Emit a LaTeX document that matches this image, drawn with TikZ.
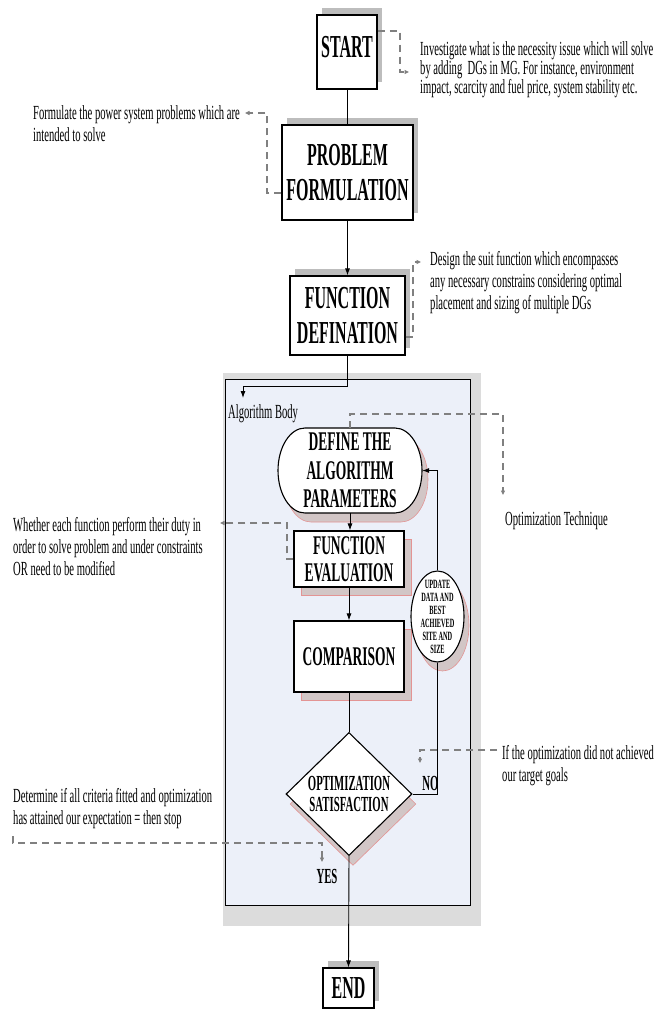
\documentclass[tikz,border=0pt]{standalone}
\usepackage{fontspec}
\setmainfont{Liberation Serif}[FakeStretch=0.53]
\newfontfamily\boxfont{Liberation Serif}[FakeStretch=0.5]
\usetikzlibrary{arrows.meta,shapes.geometric,shadows,calc}
\definecolor{boxshadow}{HTML}{BDBDBD}
\definecolor{panelgray}{HTML}{DCDCDC}
\definecolor{panelblue}{HTML}{ECF0F9}
\definecolor{pinkshadow}{HTML}{D2C6C6}
\definecolor{pinkedge}{HTML}{E39494}
\definecolor{annotgray}{HTML}{808080}
\begin{document}
\begin{tikzpicture}[x=1pt,y=-1pt,
  bigbox/.style={draw=black, line width=1.1pt, fill=white, align=center, inner sep=0pt,
    font=\boxfont\fontsize{32}{35}\selectfont\bfseries,
    copy shadow={shadow xshift=5pt, shadow yshift=7pt, fill=boxshadow, draw=none}},
  midbox/.style={draw=black, line width=1.1pt, fill=white, align=center, inner sep=0pt,
    font=\boxfont\fontsize{27}{27}\selectfont\bfseries,
    copy shadow={shadow xshift=7pt, shadow yshift=-8pt, fill=pinkshadow, draw=pinkedge, line width=0.6pt}},
  note/.style={font=\fontsize{20}{22}\selectfont, align=left, inner sep=0pt, anchor=north west},
  lbl/.style={font=\boxfont\fontsize{21.5}{21}\selectfont\bfseries, inner sep=0pt},
  conn/.style={line width=0.9pt, draw=black},
  arr/.style={conn, -{Latex[length=7pt,width=5pt]}},
  annot/.style={draw=annotgray, line width=1.1pt, dash pattern=on 7pt off 5pt,
    -{Triangle[length=4.5pt,width=4pt]}}
]
\useasboundingbox (0,0) rectangle (662,1009);

% algorithm panel
\fill[panelgray] (223,373) rectangle (481,926);
\draw[fill=panelblue, line width=1pt] (225,379) rectangle (470,905);

% main boxes
\node[bigbox, minimum width=60pt, minimum height=74pt, text depth=10pt] (start) at (347,52) {START};
\node[bigbox, minimum width=131pt, minimum height=95pt] (prob) at (347.5,172.5) {PROBLEM\\FORMULATION};
\node[bigbox, minimum width=115pt, minimum height=79pt] (fdef) at (347.5,315.5) {FUNCTION\\DEFINATION};

% stadium shape
\draw[fill=white, line width=1.1pt,
  copy shadow={shadow xshift=6pt, shadow yshift=-9pt, fill=pinkshadow, draw=pinkedge, line width=0.6pt}]
  (305,428) -- (395,428) arc[start angle=90, end angle=-90, x radius=27pt, y radius=42.5pt]
  -- (305,513) arc[start angle=270, end angle=90, x radius=27pt, y radius=42.5pt] -- cycle;
\node[align=center, inner sep=0pt, font=\boxfont\fontsize{27}{28.5}\selectfont\bfseries,
  minimum width=144pt, minimum height=85pt] (def) at (350,470.5) {DEFINE THE\\ALGORITHM\\PARAMETERS};

\node[midbox, minimum width=110pt, minimum height=56pt] (feval) at (349,559) {FUNCTION\\EVALUATION};
\node[midbox, minimum width=110pt, minimum height=71pt] (comp) at (349,656.5) {COMPARISON};
\node[diamond, draw=black, line width=1.1pt, fill=white, align=center, inner sep=0pt,
  font=\boxfont\fontsize{21.5}{21}\selectfont\bfseries, minimum width=126pt, minimum height=123pt,
  copy shadow={shadow xshift=4pt, shadow yshift=-10pt, fill=pinkshadow, draw=pinkedge, line width=0.6pt}]
  (opt) at (349,794) {OPTIMIZATION\\SATISFACTION};
\node[ellipse, draw=black, line width=1.1pt, fill=white, inner sep=0pt,
  minimum width=53pt, minimum height=91pt,
  copy shadow={shadow xshift=5pt, shadow yshift=-9pt, fill=pinkshadow, draw=pinkedge, line width=0.6pt}]
  (upd) at (437.5,616.5) {};
\node[align=center, inner sep=0pt, font=\boxfont\fontsize{12.6}{13}\selectfont\bfseries] (updtxt) at (upd.center)
  {UPDATE\\DATA AND\\BEST\\ACHIEVED\\SITE AND\\SIZE};
\node[bigbox, minimum width=51pt, minimum height=40pt] (end) at (348.5,988) {END};

% labels
\node[note] (alg) at (228,404) {Algorithm Body};
\node[lbl] (no) at (430.5,783) {NO};
\node[lbl] (yes) at (327,876) {YES};

% main connectors
\coordinate (abtip) at (243,398);
\draw[conn] (start.south) -- (start.south |- prob.north);
\draw[arr] (prob.south) -- (fdef.north);
\draw[arr] (fdef.south) -- ++(0,31) -| (abtip);
\draw[arr] (def.south) -- (def.south |- feval.north);
\draw[arr] (feval.south) -- (comp.north);
\draw[conn] (comp.south) -- (opt.north);
\draw[conn] (opt.east) -| (upd.south);
\draw[arr] (upd.north) |- (def.east);
\draw[arr] (opt.south) -- (end.north);

% notes
\node[note, font=\fontsize{20}{18}\selectfont] (inv) at (420,41) {Investigate what is the necessity issue which will solve\\by adding~ DGs in MG. For instance, environment\\impact, scarcity and fuel price, system stability etc.};
\node[note] (form) at (33,105) {Formulate the power system problems which are\\intended to solve};
\node[note] (des) at (430,251) {Design the suit function which encompasses\\any necessary constrains considering optimal\\placement and sizing of multiple DGs};
\node[note] (optt) at (505,511) {Optimization Technique};
\node[note] (whe) at (13,517) {Whether each function perform their duty in\\order to solve problem and under constraints\\OR need to be modified};
\node[note] (ift) at (502,745) {If the optimization did not achieved\\our target goals};
\node[note] (det) at (13,788) {Determine if all criteria fitted and optimization\\has attained our expectation = then stop};

% annotation connectors
\coordinate (invtip) at (409,72);
\coordinate (formtip) at (245,113);
\coordinate (destip) at (421,262);
\coordinate (optttip) at (503,495);
\coordinate (whetip) at (220,523);
\coordinate (ifstart) at (497,750);
\coordinate (notip) at (420,763);
\coordinate (detstart) at (13,836);
\coordinate (yestip) at (322,862);
\draw[annot] ([yshift=21pt]start.east) -| (400,72) -- (invtip);
\draw[annot] ([yshift=-20.5pt]prob.west) -| (267,113) -- (formtip);
\draw[annot] ([yshift=-21.5pt]fdef.east) -| (413,262) -- (destip);
\draw[annot] (def.north) |- (503,414) -- (optttip);
\draw[annot] (feval.west) -| (287,523) -- (whetip);
\draw[annot] (ifstart) -| (notip);
\draw[annot] (detstart) |- (322,843) -- (yestip);
\end{tikzpicture}
\end{document}
